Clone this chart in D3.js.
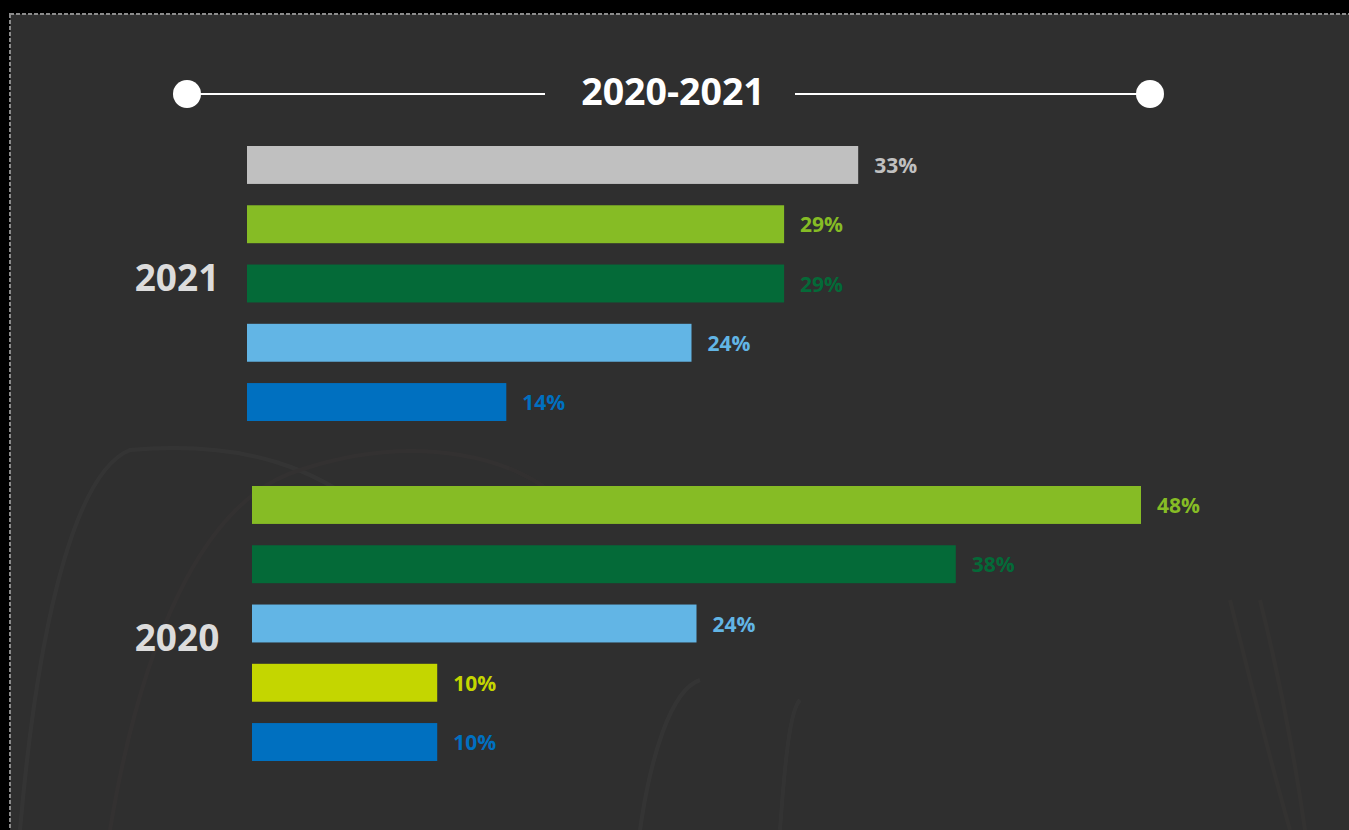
<!DOCTYPE html>
<html><head><meta charset="utf-8">
<script src="https://cdn.jsdelivr.net/npm/d3@7"></script>
<style>html,body{margin:0;padding:0;background:#000;overflow:hidden}svg{display:block}</style>
</head><body>
<svg id="chart" width="1349" height="830"></svg>
<script>
const title = "2020-2021";
const years = ["2021", "2020"];
const cats2021 = ["c1", "c2", "c3", "c4", "c5"];
const vals2021 = [33, 29, 29, 24, 14];
const cols2021 = ["#c0c0c0", "#86bc25", "#046a38", "#62b5e5", "#0070c0"];
const cats2020 = ["c2", "c3", "c4", "c6", "c5"];
const vals2020 = [48, 38, 24, 10, 10];
const cols2020 = ["#86bc25", "#046a38", "#62b5e5", "#c4d600", "#0070c0"];

const svg = d3.select("#chart");
const font = "'Open Sans', 'Noto Sans', sans-serif";

// panel background
svg.append("rect").attr("x", 10).attr("y", 14).attr("width", 1400).attr("height", 900)
  .attr("fill", "#2f2f2f").attr("stroke", "#8c8c8c").attr("stroke-width", 2)
  .attr("stroke-dasharray", "4,2");

// faint decorative arcs
const deco = svg.append("g").attr("fill", "none").attr("stroke-width", 4).attr("opacity", 0.022);
deco.append("path").attr("d", "M20,830 C40,600 80,470 130,450 C250,440 320,470 380,520").attr("stroke", "#ffffff");
deco.append("path").attr("d", "M110,830 C140,650 200,500 300,470 C420,430 520,460 560,500").attr("stroke", "#d08080");
deco.append("path").attr("d", "M640,830 C650,760 670,690 700,680").attr("stroke", "#ffffff");
deco.append("path").attr("d", "M780,830 C785,760 790,710 800,700").attr("stroke", "#ffffff");
deco.append("path").attr("d", "M1230,600 C1250,680 1270,760 1290,830").attr("stroke", "#d0a080");
deco.append("path").attr("d", "M1260,600 C1280,680 1295,760 1305,830").attr("stroke", "#d0a080");

// title line
const tg = svg.append("g");
tg.append("line").attr("x1", 187).attr("x2", 545).attr("y1", 94).attr("y2", 94).attr("stroke", "#fff").attr("stroke-width", 2);
tg.append("line").attr("x1", 795).attr("x2", 1150).attr("y1", 94).attr("y2", 94).attr("stroke", "#fff").attr("stroke-width", 2);
tg.append("circle").attr("cx", 187).attr("cy", 94).attr("r", 14).attr("fill", "#fff");
tg.append("circle").attr("cx", 1150).attr("cy", 94).attr("r", 14).attr("fill", "#fff");
tg.append("text").attr("x", 673).attr("y", 105).attr("text-anchor", "middle")
  .attr("font-family", font).attr("font-weight", 700).attr("font-size", 37.5).attr("fill", "#fff").text(title);

const x = d3.scaleLinear().domain([0, 48]).range([0, 889]);

function group(cats, vals, cols, x0, y0, y1, year, yearBaseline) {
  const y = d3.scaleBand().domain(cats).range([y0, y1]).paddingInner(0.36).paddingOuter(0);
  const g = svg.append("g");
  const data = cats.map((c, i) => ({c, v: vals[i], col: cols[i]}));
  g.selectAll("rect").data(data).enter().append("rect")
    .attr("x", x0).attr("y", d => y(d.c)).attr("width", d => x(d.v)).attr("height", y.bandwidth())
    .attr("fill", d => d.col);
  g.selectAll("text.lbl").data(data).enter().append("text").attr("class", "lbl")
    .attr("x", d => x0 + x(d.v) + 16).attr("y", d => y(d.c) + y.bandwidth() / 2 + 8)
    .attr("font-family", font).attr("font-weight", 700).attr("font-size", 21).attr("fill", d => d.col)
    .text(d => d.v + "%");
  g.append("text").attr("x", 177).attr("y", yearBaseline).attr("text-anchor", "middle")
    .attr("font-family", font).attr("font-weight", 700).attr("font-size", 37).attr("fill", "#dcdcdc").text(year);
}
group(cats2021, vals2021, cols2021, 247, 146, 421, years[0], 291);
group(cats2020, vals2020, cols2020, 252, 486, 761, years[1], 651);
</script>
</body></html>
